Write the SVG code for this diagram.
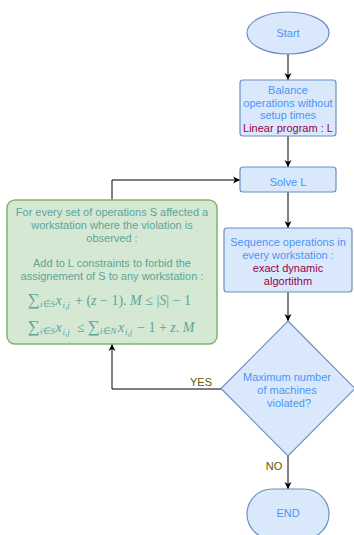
<svg xmlns="http://www.w3.org/2000/svg" width="354" height="535" viewBox="0 0 354 535">
<defs>
<style>
.blue{fill:#dae8fc;stroke:#6c8ebf;stroke-width:1.2}
.green{fill:#d5e8d4;stroke:#82b366;stroke-width:1.5}
.t{font-family:"Liberation Sans",Arial,sans-serif;font-size:11px;text-anchor:middle}
.tb{fill:#4a96f5}
.tr{fill:#99004d}
.tg{fill:#5da598}
.lab{font-family:"Liberation Sans",Arial,sans-serif;font-size:11px;fill:#5c5c00}
.m{font-family:"Liberation Serif","Times New Roman",serif;font-size:14px;fill:#5da598}
.mi{font-style:italic}
.sub{font-size:9px}
.sum{font-size:17px}
.c{fill:none;stroke:#000;stroke-width:1}
</style>
<marker id="ah" markerWidth="8" markerHeight="8" viewBox="0 0 8 8" refX="7" refY="4" orient="auto" markerUnits="userSpaceOnUse">
<path d="M0,0.5 L7,4 L0,7.5 L2,4 Z" fill="#000"/>
</marker>
</defs>
<g id="connectors">
<line class="c" x1="288" y1="54" x2="288" y2="80" marker-end="url(#ah)"/>
<line class="c" x1="288" y1="136" x2="288" y2="167" marker-end="url(#ah)"/>
<line class="c" x1="288" y1="192" x2="288" y2="228" marker-end="url(#ah)"/>
<line class="c" x1="288" y1="292" x2="288" y2="321" marker-end="url(#ah)"/>
<line class="c" x1="288" y1="456" x2="288" y2="489" marker-end="url(#ah)"/>
<polyline class="c" points="221,389 112,389 112,344" marker-end="url(#ah)"/>
<polyline class="c" points="112,200 112,180 240,180" marker-end="url(#ah)"/>
<text class="lab" x="201" y="386" text-anchor="middle">YES</text>
<text class="lab" x="274" y="469.5" text-anchor="middle">NO</text>
</g>
<g id="start">
<ellipse class="blue" cx="288" cy="33" rx="41" ry="21"/>
<text class="t tb" x="288" y="37">Start</text>
</g>
<g id="balance">
<rect class="blue" x="240" y="80" width="96" height="56" rx="3"/>
<text class="t tb" x="288" y="94">Balance</text>
<text class="t tb" x="288" y="106.5">operations without</text>
<text class="t tb" x="288" y="119">setup times</text>
<text class="t tr" x="288" y="132">Linear program : L</text>
</g>
<g id="solve">
<rect class="blue" x="240" y="167" width="96" height="25" rx="3"/>
<text class="t tb" x="288" y="185.5">Solve L</text>
</g>
<g id="sequence">
<rect class="blue" x="224" y="228" width="128" height="64" rx="3"/>
<text class="t tb" x="288" y="245.5">Sequence operations in</text>
<text class="t tb" x="288" y="259">every workstation :</text>
<text class="t tr" x="288" y="272">exact dynamic</text>
<text class="t tr" x="288" y="284.5">algortithm</text>
</g>
<g id="decision">
<polygon class="blue" points="288,321 355,388.5 288,456 221,388.5"/>
<text class="t tb" x="287" y="381">Maximum number</text>
<text class="t tb" x="287" y="394">of machines</text>
<text class="t tb" x="289" y="406.5">violated?</text>
</g>
<g id="end">
<rect class="blue" x="247" y="489" width="82" height="50" rx="25"/>
<text class="t tb" x="288" y="517">END</text>
</g>
<g id="constraints">
<rect class="green" x="7" y="200" width="210" height="144" rx="8"/>
<text class="t tg" x="112" y="216">For every set of operations S affected a</text>
<text class="t tg" x="112" y="228.5">workstation where the violation is</text>
<text class="t tg" x="112" y="241.5">observed :</text>
<text class="t tg" x="112" y="266.5">Add to L constraints to forbid the</text>
<text class="t tg" x="112" y="280">assignement of S to any workstation :</text>
<text class="m" y="305"><tspan class="sum" x="27.5">∑</tspan><tspan class="sub mi" x="40" y="307">i</tspan><tspan class="sub" y="307">∈</tspan><tspan class="sub mi" y="307">S</tspan><tspan class="mi" x="55.5" y="305">x</tspan><tspan class="sub mi" x="62.5" y="308">i,j</tspan><tspan x="75" y="305">+ (</tspan><tspan class="mi">z</tspan><tspan> − 1). </tspan><tspan class="mi">M</tspan><tspan> ≤ |</tspan><tspan class="mi">S</tspan><tspan>| − 1</tspan></text>
<text class="m" y="332"><tspan class="sum" x="27.5">∑</tspan><tspan class="sub mi" x="40" y="334">i</tspan><tspan class="sub" y="334">∈</tspan><tspan class="sub mi" y="334">S</tspan><tspan class="mi" x="55.5" y="332">x</tspan><tspan class="sub mi" x="62.5" y="335">i,j</tspan><tspan x="77" y="332">≤</tspan><tspan class="sum" x="87.5">∑</tspan><tspan class="sub mi" x="100" y="334">i</tspan><tspan class="sub" y="334">∈</tspan><tspan class="sub mi" y="334">N</tspan><tspan class="mi" x="118" y="332">x</tspan><tspan class="sub mi" x="125" y="335">i,j</tspan><tspan x="137" y="332">− 1 + </tspan><tspan class="mi">z</tspan><tspan>. </tspan><tspan class="mi">M</tspan></text>
</g>
</svg>
